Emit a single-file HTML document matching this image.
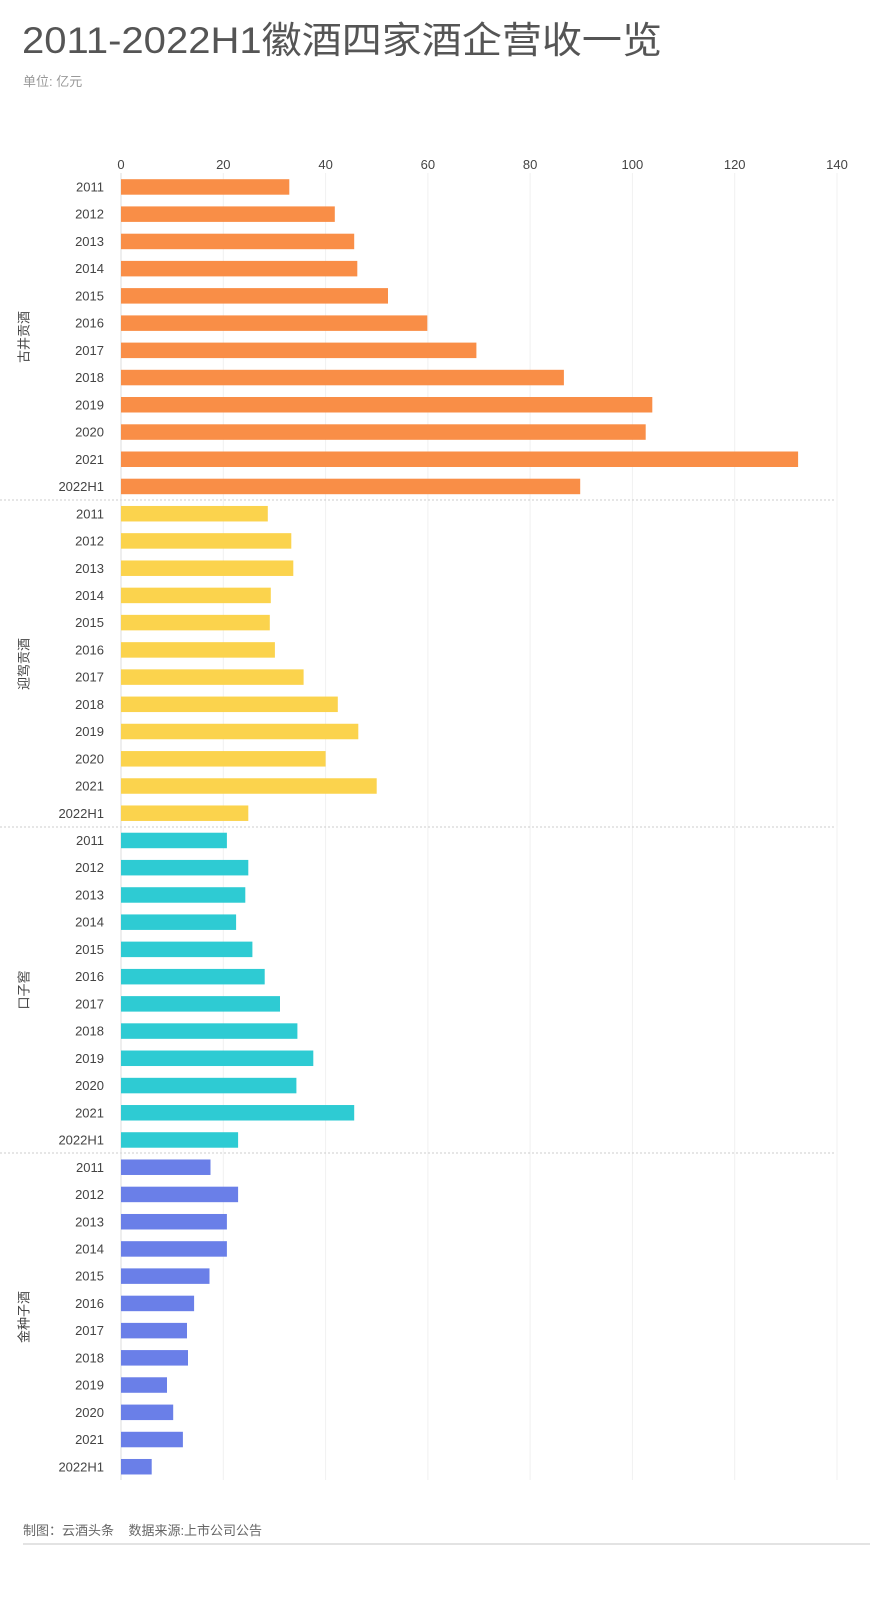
<!DOCTYPE html>
<html><head><meta charset="utf-8"><style>
html,body{margin:0;padding:0;background:#fff;}
svg{display:block;font-family:"Liberation Sans","Noto Sans CJK SC",sans-serif;}
</style></head><body>
<svg width="894" height="1612" viewBox="0 0 894 1612" xmlns="http://www.w3.org/2000/svg">
<rect width="894" height="1612" fill="#fff"/>
<text x="22" y="53" font-size="37" fill="#555" textLength="640" lengthAdjust="spacingAndGlyphs">2011-2022H1徽酒四家酒企营收一览</text>
<text x="23" y="86" font-size="13" fill="#999">单位: 亿元</text>
<g stroke="#f0f0f0" stroke-width="1">
<line x1="223.3" y1="173" x2="223.3" y2="1480"/><line x1="325.6" y1="173" x2="325.6" y2="1480"/>
<line x1="427.9" y1="173" x2="427.9" y2="1480"/><line x1="530.1" y1="173" x2="530.1" y2="1480"/>
<line x1="632.4" y1="173" x2="632.4" y2="1480"/><line x1="734.7" y1="173" x2="734.7" y2="1480"/>
<line x1="837" y1="173" x2="837" y2="1480"/>
</g>
<g font-size="13" fill="#444" text-anchor="middle">
<text x="121" y="169">0</text><text x="223.3" y="169">20</text><text x="325.6" y="169">40</text><text x="427.9" y="169">60</text><text x="530.1" y="169">80</text><text x="632.4" y="169">100</text><text x="734.7" y="169">120</text><text x="837" y="169">140</text>
</g>
<g stroke="#ccc" stroke-dasharray="2,2"><line x1="0" y1="500" x2="836" y2="500"/><line x1="0" y1="827" x2="836" y2="827"/><line x1="0" y1="1153" x2="836" y2="1153"/></g>
<line x1="121" y1="173" x2="121" y2="1480" stroke="#ddd"/>
<g font-size="13" fill="#444" text-anchor="end" dominant-baseline="central">
<g><text x="104" y="187">2011</text><text x="104" y="214.2">2012</text><text x="104" y="241.5">2013</text><text x="104" y="268.7">2014</text><text x="104" y="295.9">2015</text><text x="104" y="323.2">2016</text><text x="104" y="350.4">2017</text><text x="104" y="377.6">2018</text><text x="104" y="404.8">2019</text><text x="104" y="432.1">2020</text><text x="104" y="459.3">2021</text><text x="104" y="486.5">2022H1</text></g>
<g transform="translate(0,326.76)"><text x="104" y="187">2011</text><text x="104" y="214.2">2012</text><text x="104" y="241.5">2013</text><text x="104" y="268.7">2014</text><text x="104" y="295.9">2015</text><text x="104" y="323.2">2016</text><text x="104" y="350.4">2017</text><text x="104" y="377.6">2018</text><text x="104" y="404.8">2019</text><text x="104" y="432.1">2020</text><text x="104" y="459.3">2021</text><text x="104" y="486.5">2022H1</text></g>
<g transform="translate(0,653.52)"><text x="104" y="187">2011</text><text x="104" y="214.2">2012</text><text x="104" y="241.5">2013</text><text x="104" y="268.7">2014</text><text x="104" y="295.9">2015</text><text x="104" y="323.2">2016</text><text x="104" y="350.4">2017</text><text x="104" y="377.6">2018</text><text x="104" y="404.8">2019</text><text x="104" y="432.1">2020</text><text x="104" y="459.3">2021</text><text x="104" y="486.5">2022H1</text></g>
<g transform="translate(0,980.28)"><text x="104" y="187">2011</text><text x="104" y="214.2">2012</text><text x="104" y="241.5">2013</text><text x="104" y="268.7">2014</text><text x="104" y="295.9">2015</text><text x="104" y="323.2">2016</text><text x="104" y="350.4">2017</text><text x="104" y="377.6">2018</text><text x="104" y="404.8">2019</text><text x="104" y="432.1">2020</text><text x="104" y="459.3">2021</text><text x="104" y="486.5">2022H1</text></g>
</g>
<g font-size="13" fill="#444" text-anchor="middle" dominant-baseline="central">
<text transform="translate(24,337) rotate(-90)">古井贡酒</text>
<text transform="translate(24,664) rotate(-90)">迎驾贡酒</text>
<text transform="translate(24,990) rotate(-90)">口子窖</text>
<text transform="translate(24,1317) rotate(-90)">金种子酒</text>
</g>
<g fill="#F98E47">
<rect x="121" y="179.2" width="168.3" height="15.5"/><rect x="121" y="206.4" width="213.8" height="15.5"/><rect x="121" y="233.7" width="233.2" height="15.5"/><rect x="121" y="260.9" width="236.3" height="15.5"/><rect x="121" y="288.1" width="267" height="15.5"/><rect x="121" y="315.4" width="306.3" height="15.5"/><rect x="121" y="342.6" width="355.4" height="15.5"/><rect x="121" y="369.8" width="442.9" height="15.5"/><rect x="121" y="397" width="531.3" height="15.5"/><rect x="121" y="424.3" width="524.7" height="15.5"/><rect x="121" y="451.5" width="677.1" height="15.5"/><rect x="121" y="478.7" width="459.2" height="15.5"/>
</g>
<g fill="#FBD34D" transform="translate(0,326.76)">
<rect x="121" y="179.2" width="146.8" height="15.5"/><rect x="121" y="206.4" width="170.3" height="15.5"/><rect x="121" y="233.7" width="172.3" height="15.5"/><rect x="121" y="260.9" width="149.8" height="15.5"/><rect x="121" y="288.1" width="148.8" height="15.5"/><rect x="121" y="315.4" width="153.9" height="15.5"/><rect x="121" y="342.6" width="182.6" height="15.5"/><rect x="121" y="369.8" width="216.8" height="15.5"/><rect x="121" y="397" width="237.3" height="15.5"/><rect x="121" y="424.3" width="204.6" height="15.5"/><rect x="121" y="451.5" width="255.7" height="15.5"/><rect x="121" y="478.7" width="127.3" height="15.5"/>
</g>
<g fill="#2ECBD3" transform="translate(0,653.52)">
<rect x="121" y="179.2" width="105.9" height="15.5"/><rect x="121" y="206.4" width="127.3" height="15.5"/><rect x="121" y="233.7" width="124.3" height="15.5"/><rect x="121" y="260.9" width="115.1" height="15.5"/><rect x="121" y="288.1" width="131.4" height="15.5"/><rect x="121" y="315.4" width="143.7" height="15.5"/><rect x="121" y="342.6" width="159" height="15.5"/><rect x="121" y="369.8" width="176.4" height="15.5"/><rect x="121" y="397" width="192.3" height="15.5"/><rect x="121" y="424.3" width="175.4" height="15.5"/><rect x="121" y="451.5" width="233.2" height="15.5"/><rect x="121" y="478.7" width="117.1" height="15.5"/>
</g>
<g fill="#6A7FE8" transform="translate(0,980.28)">
<rect x="121" y="179.2" width="89.5" height="15.5"/><rect x="121" y="206.4" width="117.1" height="15.5"/><rect x="121" y="233.7" width="105.9" height="15.5"/><rect x="121" y="260.9" width="105.9" height="15.5"/><rect x="121" y="288.1" width="88.5" height="15.5"/><rect x="121" y="315.4" width="73.1" height="15.5"/><rect x="121" y="342.6" width="66" height="15.5"/><rect x="121" y="369.8" width="67" height="15.5"/><rect x="121" y="397" width="46" height="15.5"/><rect x="121" y="424.3" width="52.2" height="15.5"/><rect x="121" y="451.5" width="61.9" height="15.5"/><rect x="121" y="478.7" width="30.7" height="15.5"/>
</g>
<text x="23" y="1535" font-size="13" fill="#666" xml:space="preserve">制图：云酒头条    数据来源:上市公司公告</text>
<rect x="23" y="1543" width="847" height="2" fill="#e3e3e3"/>
</svg>
</body></html>
